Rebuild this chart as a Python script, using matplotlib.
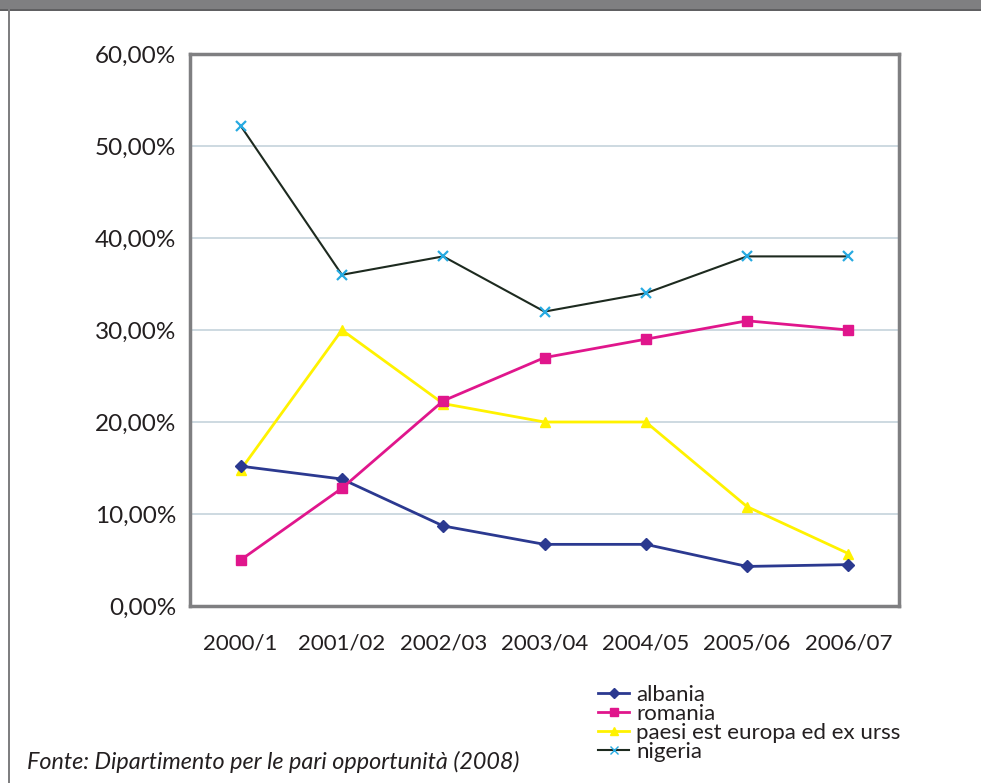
import matplotlib
matplotlib.use("Agg")
import matplotlib.pyplot as plt
from matplotlib.patches import Rectangle
from matplotlib.lines import Line2D

categories = ["2000/1", "2001/02", "2002/03", "2003/04", "2004/05", "2005/06", "2006/07"]
albania = [15.2, 13.8, 8.7, 6.7, 6.7, 4.3, 4.5]
romania = [5.0, 12.8, 22.3, 27.0, 29.0, 31.0, 30.0]
paesi = [14.8, 30.0, 22.0, 20.0, 20.0, 10.8, 5.7]
nigeria = [52.2, 36.0, 38.0, 32.0, 34.0, 38.0, 38.0]
yticks = [0, 10, 20, 30, 40, 50, 60]
ytick_labels = ["0,00%", "10,00%", "20,00%", "30,00%", "40,00%", "50,00%", "60,00%"]
series_names = ["albania", "romania", "paesi est europa ed ex urss", "nigeria"]

plt.rcParams['font.family'] = ['Lato', 'DejaVu Sans']

W, H = 981, 783
fig = plt.figure(figsize=(W / 100, H / 100), dpi=100)
fig.patch.set_facecolor("white")

# header band and left border
fig.patches.append(Rectangle((0, 1 - 9 / H), 1, 9 / H, transform=fig.transFigure,
                             facecolor="#7f7f81", edgecolor="none", zorder=0))
fig.patches.append(Rectangle((0, 1 - 10.5 / H), 1, 1.5 / H, transform=fig.transFigure,
                             facecolor="#606062", edgecolor="none", zorder=0))
fig.patches.append(Rectangle((7.5 / W, 0), 2.5 / W, 1 - 9 / H, transform=fig.transFigure,
                             facecolor="#7f7f81", edgecolor="none", zorder=0))

left, right, top, bottom = 190, 899, 54, 606
ax = fig.add_axes([left / W, 1 - bottom / H, (right - left) / W, (bottom - top) / H])

x = list(range(len(categories)))
ax.plot(x, albania, color="#2b3990", lw=2, marker="D", ms=6, mfc="#2b3990", mec="#2b3990", zorder=4)
ax.plot(x, romania, color="#e0168c", lw=2, marker="s", ms=7.5, mfc="#e0168c", mec="#e0168c", zorder=4)
ax.plot(x, paesi, color="#fff200", lw=2, marker="^", ms=7.5, mfc="#fff200", mec="#fff200", zorder=3)
ax.plot(x, nigeria, color="#1d2a1f", lw=1.5, zorder=3)
ax.plot(x, nigeria, color="none", marker="x", ms=7, mew=1.6, mec="#27aae1", zorder=5, ls="none")

ax.set_xlim(-0.5, 6.5)
ax.set_ylim(0, 60)
ax.set_yticks(yticks)
ax.set_yticklabels(ytick_labels)
ax.set_xticks(x)
ax.set_xticklabels(categories)
ax.tick_params(axis="both", length=0, colors="#231f20")
ax.tick_params(axis="y", pad=10, labelsize=17.5)
ax.tick_params(axis="x", pad=20, labelsize=16)
ax.grid(axis="y", color="#c5d3dc", lw=1.2)
ax.set_axisbelow(True)
for s in ax.spines.values():
    s.set_color("#7f7f81")
    s.set_linewidth(2.5)

handles = [
    Line2D([], [], color="#2b3990", lw=2, marker="D", ms=5),
    Line2D([], [], color="#e0168c", lw=2, marker="s", ms=6),
    Line2D([], [], color="#fff200", lw=2, marker="^", ms=6),
    Line2D([], [], color="#1d2a1f", lw=1.5, marker="x", ms=6, mec="#27aae1"),
]
fig.legend(handles, series_names, loc="upper left", bbox_to_anchor=(587 / W, 1 - 674 / H),
           frameon=False, fontsize=16, handlelength=1.4, handletextpad=0.3,
           labelspacing=-0.05, borderpad=0, labelcolor="#231f20")

fig.text(27 / W, 1 - 762 / H, "Fonte: Dipartimento per le pari opportunità (2008)",
         fontsize=16.8, style="italic", color="#231f20", va="center", ha="left")

fig.savefig("out.png", dpi=100)
